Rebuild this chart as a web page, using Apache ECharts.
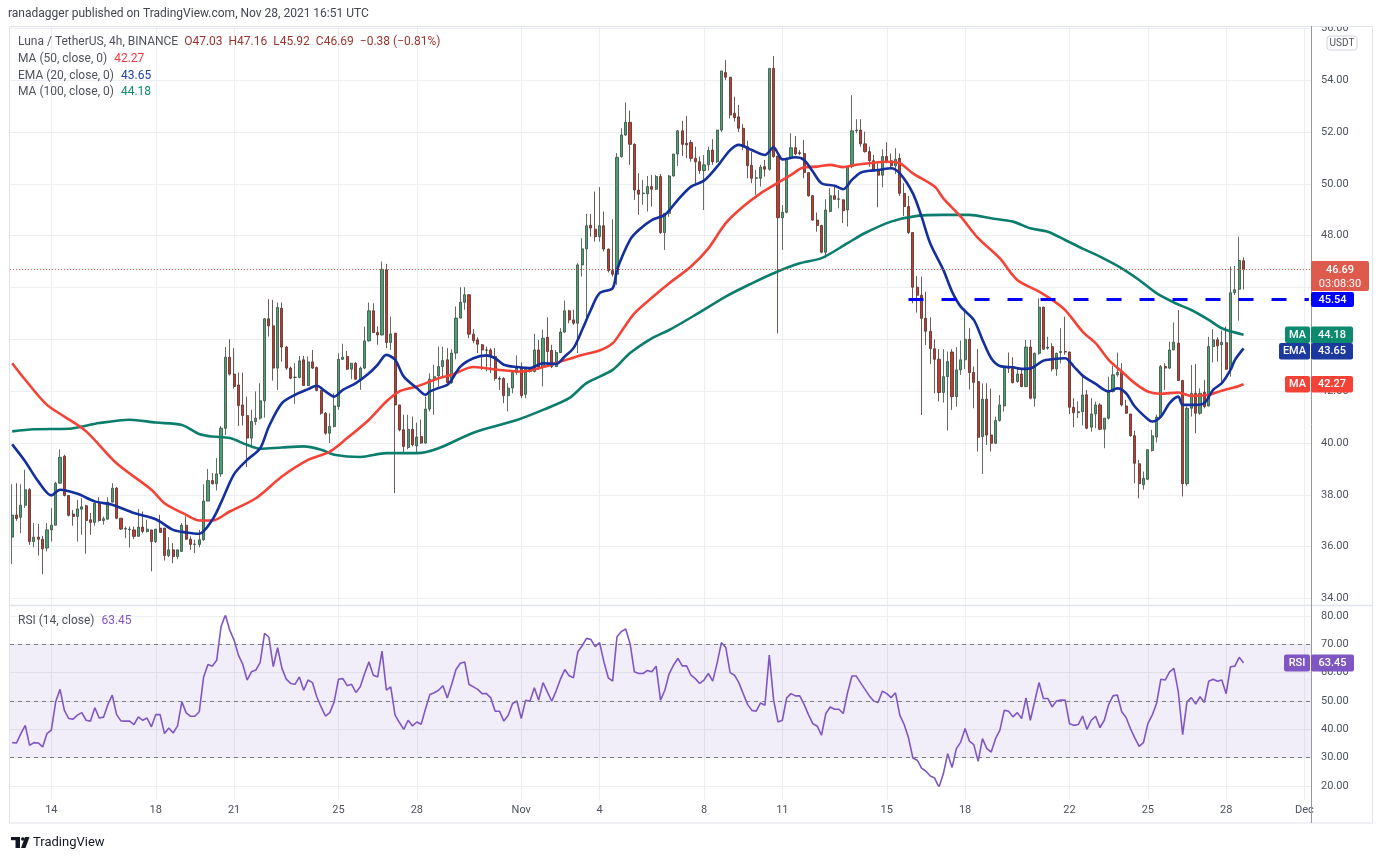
<!DOCTYPE html>
<html>
<head>
<meta charset="utf-8">
<script src="https://cdn.jsdelivr.net/npm/echarts/dist/echarts.min.js"></script>
<style>html,body{margin:0;padding:0;background:#fff}#c{width:1383px;height:860px}</style>
</head>
<body>
<div id="c"></div>
<script>
// ---------------- DATA ----------------
const tickDates  = ['2021-10-14','2021-10-18','2021-10-21','2021-10-25','2021-10-28','2021-11-01','2021-11-04','2021-11-08','2021-11-11','2021-11-15','2021-11-18','2021-11-22','2021-11-25','2021-11-28','2021-12-01'];
const tickLabels = ['14','18','21','25','28','Nov','4','8','11','15','18','22','25','28','Dec'];
const priceTicks = { min: 34, max: 56, step: 2 };
const rsiTicks = { min: 20, max: 80, step: 10 };

const openP = [36.37,37.22,37.14,37.6,38.2,36.2,36.37,36.29,35.95,36.65,36.83,38.45,39.49,37.98,37.26,37.17,37.45,37.58,37.04,36.94,37.68,37.01,37.06,37.72,38.26,37.1,36.68,36.66,36.65,36.4,36.76,36.59,36.65,36.2,36.72,36.72,35.66,35.88,35.62,35.82,36.83,36.29,36.09,36.09,36.27,37.76,38.55,38.43,38.81,40.57,
43.31,42.66,42.24,41.47,41.06,40.19,40.83,40.96,41.63,44.79,44.52,42.89,45.2,43.7,42.89,42.53,42.53,43.21,42.22,43.13,42.91,42.03,41.15,40.38,40.64,41.41,43.23,43.34,42.85,43.08,42.46,42.89,43.94,45.1,44.26,44.17,46.68,43.88,44.24,41.47,40.51,39.83,40.53,39.89,40.25,40.0,41.31,42.46,42.59,42.95,
43.21,42.33,43.47,44.82,45.43,45.72,44.20,43.98,43.79,43.59,43.59,43.34,42.49,42.49,41.83,42.12,42.72,42.89,41.88,42.85,42.76,43.59,42.93,44.08,43.57,42.95,43.49,44.28,45.10,44.75,44.62,46.87,47.49,48.40,48.25,47.96,48.38,47.48,46.65,46.51,51.05,51.88,52.37,51.52,49.76,49.62,49.61,49.89,49.79,50.28,
48.12,48.86,50.30,51.15,52.04,51.56,51.59,50.98,50.85,50.51,50.73,51.30,50.85,52.07,54.29,54.11,52.72,52.58,52.14,51.43,50.71,50.21,50.21,50.66,50.56,54.45,51.07,48.69,48.90,50.98,51.39,51.20,51.17,50.43,49.54,48.60,48.39,47.36,48.93,49.54,49.40,49.38,48.99,50.66,52.04,52.07,51.54,51.24,50.89,50.51,
50.33,51.05,50.89,50.69,50.98,49.63,49.12,48.12,46.01,45.70,44.81,44.31,43.64,43.23,41.95,42.56,43.51,41.79,42.82,43.21,44.00,42.72,42.37,40.25,41.69,40.31,39.99,40.87,41.43,42.95,42.88,42.37,42.66,42.18,43.70,41.73,43.46,45.24,43.66,43.72,42.86,43.49,43.53,43.51,41.38,41.17,41.21,41.86,40.61,41.12,
41.47,40.53,40.96,41.99,42.63,42.72,41.43,41.12,40.28,39.20,38.39,38.60,39.71,40.23,41.00,42.95,42.89,43.59,43.85,42.41,38.43,41.34,41.92,41.15,41.96,41.43,43.72,43.98,43.79,43.87,42.85,45.80,45.93,47.03];
const highP = [38.41,38.45,38.41,38.97,38.26,36.91,36.88,36.42,36.91,37.49,38.5,39.76,39.55,37.98,37.42,37.81,37.87,37.62,37.3,37.75,37.91,37.17,37.91,38.45,38.3,37.1,36.78,36.78,36.78,37.45,37.36,37.04,36.65,36.68,37.23,36.72,36.37,36.14,35.88,36.91,37.17,36.4,36.27,36.65,38.41,39.0,38.84,39.42,40.66,43.7,
44.0,43.66,42.72,42.72,41.79,41.28,41.99,42.31,44.82,45.55,45.52,45.42,45.42,43.75,42.95,43.08,43.36,43.36,43.34,43.59,42.95,42.05,41.2,41.15,41.92,43.46,43.83,43.55,43.08,43.12,42.95,44.49,45.42,45.39,44.5,47.0,46.91,44.88,44.24,41.47,41.09,41.09,41.02,40.79,40.9,41.79,42.69,43.02,43.72,43.72,
43.66,43.62,45.27,46.01,46.01,45.74,44.39,44.08,43.82,43.72,43.66,43.66,42.57,42.54,42.31,42.80,43.38,43.11,42.95,42.89,44.21,43.98,44.37,44.85,43.79,43.59,44.43,45.50,45.14,45.14,46.94,47.90,48.84,48.84,49.70,49.87,48.93,47.50,48.63,51.18,52.14,53.14,52.82,51.56,50.41,50.15,50.30,50.34,50.34,50.38,
48.86,50.34,51.15,52.07,52.43,52.61,51.69,51.43,51.05,51.11,51.43,51.72,52.07,54.35,54.77,54.11,53.36,53.04,52.30,51.66,51.24,50.53,50.73,50.92,54.45,54.93,51.07,49.18,50.98,51.95,51.84,51.30,51.69,50.43,49.57,48.89,48.42,49.40,49.83,49.95,49.76,49.40,50.66,53.42,52.49,52.49,52.01,51.43,51.11,50.79,
51.33,51.60,51.17,51.37,51.17,50.02,49.53,48.12,46.44,46.42,45.84,44.85,44.00,43.62,43.62,43.53,43.62,43.70,43.95,45.20,44.43,42.95,43.62,42.30,42.30,42.10,41.02,41.85,42.95,43.49,43.31,42.88,42.88,43.98,43.98,43.49,45.58,45.26,44.10,43.85,43.49,44.43,44.87,43.53,41.73,41.60,42.62,42.05,41.73,41.60,
41.54,40.96,42.56,42.98,43.49,43.08,41.67,41.12,40.47,39.35,38.90,39.76,40.51,41.09,43.01,43.08,43.91,44.65,45.13,42.44,41.41,43.01,43.05,42.11,42.44,44.10,44.39,44.08,44.34,44.49,46.81,46.83,47.96,47.16];
const lowP = [35.33,37.0,36.52,37.5,36.07,35.98,35.66,34.94,35.82,36.2,36.83,38.45,37.94,37.17,36.81,36.2,36.46,35.73,36.46,36.81,36.97,36.85,37.06,37.72,37.06,36.65,36.33,35.97,36.29,36.4,36.52,36.55,35.05,36.15,36.55,35.47,35.6,35.37,35.52,35.82,36.27,35.88,35.75,35.98,36.23,37.76,38.4,38.17,38.7,40.31,
42.6,42.1,40.66,40.68,39.07,39.87,40.7,40.9,40.98,44.11,42.41,42.05,43.14,42.82,42.46,41.51,42.5,42.2,42.2,42.85,42.0,41.09,40.32,40.0,40.6,41.28,43.2,42.82,42.46,42.44,42.05,42.85,43.92,44.24,43.79,44.14,43.66,43.59,38.07,40.45,39.58,39.76,39.87,39.58,39.97,39.98,41.22,41.09,42.18,42.57,
42.31,42.28,43.23,44.80,45.14,44.04,43.85,43.47,42.82,42.76,42.69,42.41,42.05,41.54,41.22,41.92,42.63,41.73,41.73,42.72,42.72,42.82,42.18,42.93,42.89,42.93,43.47,44.26,44.62,44.56,43.47,46.42,44.75,47.96,47.77,47.77,47.39,46.58,46.42,46.10,51.0,51.85,50.73,49.38,48.80,49.19,48.93,49.12,49.76,48.06,
47.45,48.73,50.28,50.69,51.07,50.98,50.85,50.02,50.38,48.99,50.51,50.73,50.80,52.0,54.0,52.52,52.4,52.0,51.30,50.21,50.02,49.57,49.89,50.28,50.50,51.0,44.23,47.45,48.86,50.98,51.10,51.10,50.21,49.50,48.58,48.15,47.32,47.13,48.90,49.38,49.05,48.48,48.35,50.60,51.95,51.43,51.20,50.66,50.47,49.09,
49.86,50.79,50.56,50.38,49.53,48.76,48.06,45.39,45.03,41.08,43.78,43.05,41.92,41.60,41.56,40.48,41.28,41.40,42.63,42.85,42.07,41.34,39.67,38.81,39.93,39.67,39.96,40.83,41.21,42.70,42.30,42.33,42.15,42.15,41.69,41.40,43.40,43.60,43.60,42.76,42.59,43.07,43.40,41.12,40.61,40.96,40.68,40.53,40.44,40.57,
40.50,39.80,40.90,41.95,42.56,41.41,41.12,40.25,38.45,37.87,38.20,38.58,39.67,40.02,40.96,42.05,42.85,43.59,42.41,37.94,38.35,41.02,40.38,41.09,41.34,41.41,43.11,43.14,42.37,42.82,42.56,45.71,44.72,45.92];
const closeP = [37.22,37.09,37.6,38.2,36.2,36.37,36.29,35.92,36.65,36.83,38.45,39.45,37.98,37.21,37.17,37.46,37.54,37.01,36.94,37.68,37.01,37.08,37.72,38.26,37.1,36.68,36.7,36.68,36.4,36.76,36.59,36.68,36.2,36.68,36.55,35.66,35.88,35.62,35.88,36.83,36.29,36.09,36.1,36.27,37.76,38.55,38.43,38.81,40.57,43.31,
42.66,42.18,41.45,41.06,40.19,40.83,40.96,41.63,44.79,44.52,42.89,45.23,43.7,42.89,42.5,42.54,43.17,42.22,43.13,42.89,42.03,41.15,40.38,40.64,41.43,43.23,43.31,42.85,43.08,42.46,42.89,43.94,45.1,44.26,44.17,46.7,43.88,44.21,41.47,40.51,39.87,40.53,39.93,40.23,40.0,41.31,42.46,42.56,42.95,43.18,
42.33,43.47,44.82,45.43,45.72,44.20,43.95,43.81,43.59,43.58,43.34,42.49,42.46,41.83,42.12,42.72,42.89,41.83,42.85,42.76,43.59,42.93,44.04,43.53,42.95,43.49,44.28,45.10,44.75,44.62,46.87,47.49,48.38,48.29,47.96,48.38,47.48,46.65,46.51,51.02,51.88,52.37,51.52,49.76,49.60,49.64,49.89,49.79,50.28,48.12,
48.86,50.30,51.15,52.04,51.52,51.50,50.98,50.85,50.51,50.73,51.28,50.85,52.07,54.35,54.11,52.65,52.55,52.14,51.43,50.70,50.21,50.23,50.64,50.56,54.45,51.05,48.69,48.90,50.98,51.39,51.15,51.17,50.43,49.54,48.60,48.39,47.36,48.99,49.54,49.40,49.42,48.96,50.66,52.04,52.07,51.54,51.24,50.89,50.51,50.33,
51.05,50.85,50.69,50.94,49.63,49.12,48.12,46.01,45.70,44.81,44.31,43.64,43.23,41.95,42.56,43.14,41.79,42.82,43.21,44.00,42.72,42.34,40.22,41.69,40.31,39.99,40.87,41.47,42.92,42.88,42.33,42.66,42.18,43.70,41.73,43.46,45.24,43.62,43.70,42.86,43.46,43.53,43.51,41.38,41.17,41.21,41.85,40.57,41.12,41.47,
40.53,40.96,41.99,42.63,42.72,41.47,41.15,40.28,39.22,38.43,38.64,39.74,40.28,41.00,42.95,42.89,43.59,43.89,42.41,38.43,41.34,41.92,41.15,41.92,41.41,43.72,43.98,43.75,43.89,42.85,45.80,45.91,47.04,46.69];

// moving averages: [candle index, value]
const ema20Points = [[0,39.95],[3,39.29],[6,38.52],[9,37.98],[11,38.2],[15,38.04],[19,37.75],[23,37.62],[28,37.3],[33,37.06],[37,36.65],[40,36.55],[43,36.5],[46,37.04],[48,37.7],[51,38.8],[54,39.35],[57,39.8],[59,40.64],[62,41.54],[65,41.86],[68,42.08],[70,42.21],[72,41.99],[74,41.79],[76,42.05],[79,42.31],[82,42.69],[84,43.02],[86,43.4],[88,43.21],[90,42.56],[93,42.12],[95,41.86],[96,41.99],[98,42.12],[100,42.24],[101,42.44],[103,42.95],[106,43.27],[109,43.38],[111,43.27],[113,43.02],[116,42.93],[119,42.89],[122,43.08],[125,43.05],[127,43.34],[129,43.66],[131,44.37],[133,45.14],[135,45.78],[138,45.97],[139,46.68],[142,47.84],[144,48.22],[147,48.6],[150,48.8],[153,49.38],[156,49.89],[159,50.12],[162,50.66],[165,51.3],[167,51.5],[170,51.3],[173,51.11],[175,51.41],[176,51.17],[177,50.94],[180,51.02],[182,50.92],[184,50.47],[186,50.02],[189,49.92],[191,49.79],[193,50.15],[195,50.43],[197,50.5],[199,50.53],[202,50.6],[204,50.4],[207,49.63],[209,48.73],[211,47.7],[214,46.68],[216,45.84],[218,45.26],[221,44.75],[223,43.98],[225,43.27],[227,42.97],[230,42.92],[232,42.86],[234,42.88],[237,43.18],[239,43.23],[242,43.27],[244,42.95],[246,42.6],[249,42.28],[252,41.99],[254,42.11],[256,41.92],[258,41.41],[261,40.92],[262,40.83],[264,41.02],[266,41.54],[268,41.79],[269,41.47],[272,41.47],[274,41.54],[276,42.05],[278,42.31],[280,42.82],[281,43.2],[283,43.65]];
const ma50Points = [[0,43.08],[3,42.44],[8,41.47],[12,41.02],[17,40.45],[24,39.22],[32,38.2],[35,37.68],[40,37.23],[43,37.01],[46,37.01],[50,37.36],[56,37.87],[62,38.71],[68,39.35],[73,39.67],[77,40.19],[82,40.9],[86,41.6],[89,41.99],[93,42.18],[98,42.5],[101,42.63],[106,42.93],[112,42.82],[117,42.76],[122,42.93],[126,43.14],[131,43.4],[135,43.57],[138,43.85],[140,44.3],[143,45.0],[147,45.6],[151,46.16],[156,46.81],[160,47.51],[164,48.48],[168,49.12],[172,49.63],[176,50.04],[179,50.34],[182,50.64],[185,50.66],[188,50.73],[191,50.64],[194,50.73],[197,50.79],[201,50.85],[204,50.79],[207,50.4],[212,49.89],[214,49.44],[218,48.73],[222,47.9],[227,47.12],[231,46.29],[236,45.84],[239,45.52],[242,45.13],[246,44.3],[249,43.85],[252,43.21],[255,42.76],[258,42.31],[261,41.99],[264,41.9],[268,41.95],[271,41.82],[275,41.86],[278,42.02],[281,42.15],[283,42.27]];
const ma100Points = [[0,40.45],[5,40.53],[13,40.55],[20,40.77],[27,40.9],[33,40.79],[39,40.7],[43,40.35],[46,40.25],[50,40.19],[54,39.93],[57,39.78],[62,39.83],[67,39.87],[71,39.74],[74,39.55],[80,39.46],[86,39.61],[93,39.61],[98,39.8],[106,40.4],[116,40.89],[122,41.28],[128,41.73],[132,42.31],[138,42.82],[142,43.47],[147,44.04],[151,44.36],[157,44.94],[164,45.65],[170,46.16],[175,46.55],[181,46.93],[186,47.13],[192,47.71],[196,48.1],[202,48.54],[208,48.76],[214,48.8],[220,48.8],[225,48.67],[230,48.54],[234,48.28],[238,48.15],[242,47.83],[246,47.5],[250,47.19],[255,46.74],[259,46.29],[263,45.78],[267,45.42],[271,45.13],[275,44.75],[278,44.43],[283,44.18]];

const rsi14 = [35.3,35.2,38.5,41.4,34.4,35.3,35.2,33.8,38.5,39.7,49.7,54.1,46.7,43.8,43.6,45.0,45.9,43.2,42.9,47.6,44.0,44.3,48.8,52.1,45.2,43.0,42.9,42.9,41.7,44.4,43.2,44.0,40.9,45.2,45.2,38.5,40.5,38.7,41.2,49.7,45.8,44.6,44.6,46.2,58.5,62.9,62.3,64.4,76.2,80.4,
75.0,71.5,66.2,62.9,57.4,60.3,60.9,63.6,73.9,72.5,62.1,68.8,61.5,57.7,56.2,55.9,58.5,53.8,57.4,56.5,51.5,47.9,44.7,45.9,49.7,57.7,57.9,55.4,55.9,53.0,55.0,59.7,63.8,59.1,58.5,67.6,53.8,55.0,45.0,42.4,40.0,43.2,41.2,42.6,41.8,47.3,52.3,52.9,53.8,55.4,
51.1,55.8,61.1,63.3,63.8,55.8,55.0,54.1,52.6,52.6,51.1,46.4,46.4,42.9,45.0,49.1,50.0,43.8,50.3,49.9,54.7,50.3,56.5,53.2,49.9,53.5,57.7,61.1,58.9,58.2,67.4,69.5,72.1,71.7,69.2,70.6,63.8,58.2,57.0,72.7,74.5,75.4,70.3,60.3,59.7,59.7,60.8,60.3,62.3,50.3,
53.8,59.7,62.7,65.0,62.4,62.4,59.1,57.9,56.2,57.4,59.7,57.0,63.3,70.6,68.9,60.0,59.1,56.5,52.6,48.8,46.7,46.4,49.3,48.5,66.2,50.3,42.6,43.2,51.1,52.6,51.8,51.8,48.8,45.2,42.0,41.2,37.9,45.6,47.9,47.1,47.1,45.6,53.0,58.8,58.8,56.4,54.1,51.8,50.0,49.5,
53.5,52.6,51.2,52.9,45.0,41.7,37.0,29.9,29.1,26.3,25.2,23.5,22.8,19.6,24.3,31.4,26.5,33.2,35.5,40.3,35.8,34.6,28.7,36.7,33.2,32.0,36.7,39.7,46.7,46.4,44.4,45.9,43.8,51.1,43.2,49.9,56.5,50.9,50.9,47.9,50.0,50.3,50.3,42.0,41.4,41.7,44.7,40.0,43.2,44.6,
40.6,43.2,48.8,51.8,52.1,46.2,44.2,40.3,37.0,34.0,35.3,42.0,45.0,49.1,57.7,57.4,60.3,61.5,53.2,38.1,49.7,51.2,48.9,51.5,49.5,57.0,57.7,57.0,57.4,52.6,62.1,62.3,65.4,63.45];

const supportLevel = 45.54;
const supportFrom = 206;          // candle index where the drawn support line begins
const lastPrice = 46.69;
const lastMA50 = 42.27, lastEMA20 = 43.65, lastMA100 = 44.18, lastRSI = 63.45;
const ohlcText = { o: '47.03', h: '47.16', l: '45.92', c: '46.69', chg: '\u22120.38 (\u22120.81%)' };

// ---------------- CATEGORIES (4h slots) ----------------
const nSlots = 299;
const startUTC = Date.UTC(2021, 9, 12, 12, 0);
const cats = [];
for (let i = 0; i < nSlots; i++) {
  cats.push(new Date(startUTC + i * 4 * 3600e3).toISOString().slice(0, 16).replace('T', ' '));
}
const tickMap = {};
tickDates.forEach((d, i) => { tickMap[d + ' 00:00'] = tickLabels[i]; });

function toSeries(points) {
  const arr = new Array(openP.length).fill(null);
  points.forEach(p => { arr[p[0]] = p[1]; });
  return arr;
}
const candleData = openP.map((o, i) => [o, closeP[i], lowP[i], highP[i]]);
const supportData = new Array(nSlots).fill(null);
supportData[supportFrom] = supportLevel;
supportData[nSlots - 1] = supportLevel;

// ---------------- CHART ----------------
const FONT = 'Roboto, "Noto Sans", sans-serif';
const L = 10, W = 1301, slot = W / nSlots;
const chart = echarts.init(document.getElementById('c'), null, { renderer: 'canvas' });
const gridColor = '#eceef1';
const axisTxt = '#4c525e';

chart.setOption({
  animation: false,
  backgroundColor: '#ffffff',
  textStyle: { fontFamily: FONT },
  grid: [
    { left: L + slot / 2, width: slot * (nSlots - 1), top: 26, height: 774 },
    { left: L, width: W, top: 28.2, height: 570.4 },
    { left: L, width: W, top: 616, height: 170 }
  ],
  xAxis: [
    { type: 'category', gridIndex: 0, data: cats, boundaryGap: false,
      axisLine: { show: false }, axisTick: { show: false },
      axisLabel: { interval: (i, v) => tickMap[v] !== undefined, formatter: v => tickMap[v] || '',
                   color: axisTxt, fontSize: 11, margin: 5, fontFamily: FONT },
      splitLine: { show: true, interval: (i, v) => tickMap[v] !== undefined, lineStyle: { color: gridColor, width: 1 } } },
    { type: 'category', gridIndex: 1, data: cats, boundaryGap: true, show: false },
    { type: 'category', gridIndex: 2, data: cats, boundaryGap: true, show: false }
  ],
  yAxis: [
    { type: 'value', gridIndex: 0, show: false, min: 0, max: 1 },
    { type: 'value', gridIndex: 1, position: 'right', min: priceTicks.min, max: priceTicks.max, interval: priceTicks.step,
      axisLine: { show: false }, axisTick: { show: false },
      axisLabel: { formatter: v => v.toFixed(2), color: axisTxt, fontSize: 11, margin: 10, fontFamily: FONT },
      splitLine: { lineStyle: { color: gridColor, width: 1 } } },
    { type: 'value', gridIndex: 2, position: 'right', min: rsiTicks.min, max: rsiTicks.max, interval: rsiTicks.step,
      axisLine: { show: false }, axisTick: { show: false },
      axisLabel: { formatter: v => v.toFixed(2), color: axisTxt, fontSize: 11, margin: 10, fontFamily: FONT },
      splitLine: { lineStyle: { color: gridColor, width: 1 } } }
  ],
  series: [
    { type: 'candlestick', xAxisIndex: 1, yAxisIndex: 1, data: candleData, barWidth: 2.6, z: 2,
      itemStyle: { color: '#46a173', color0: '#c8392d', borderColor: '#3a4a40', borderColor0: '#4e2f2b', borderWidth: 0.8 },
      markLine: { silent: true, symbol: 'none', label: { show: false },
        lineStyle: { color: '#e0574a', type: [1, 2], width: 1 }, data: [{ yAxis: lastPrice }] } },
    { type: 'line', xAxisIndex: 1, yAxisIndex: 1, data: toSeries(ma100Points), connectNulls: true, showSymbol: false,
      smooth: 0.3, lineStyle: { color: '#0b7d6c', width: 2.6 }, z: 3 },
    { type: 'line', xAxisIndex: 1, yAxisIndex: 1, data: toSeries(ma50Points), connectNulls: true, showSymbol: false,
      smooth: 0.3, lineStyle: { color: '#f44336', width: 2.6 }, z: 3 },
    { type: 'line', xAxisIndex: 1, yAxisIndex: 1, data: toSeries(ema20Points), connectNulls: true, showSymbol: false,
      smooth: 0.3, lineStyle: { color: '#13309c', width: 2.6 }, z: 4 },
    { type: 'line', xAxisIndex: 1, yAxisIndex: 1, data: supportData, connectNulls: true, showSymbol: false,
      lineStyle: { color: '#0000ff', width: 3, type: [15, 18] }, z: 5 },
    { type: 'line', xAxisIndex: 2, yAxisIndex: 2, data: rsi14, showSymbol: false, z: 3,
      lineStyle: { color: '#7e57c2', width: 1.6 },
      markArea: { silent: true, itemStyle: { color: 'rgba(126,87,194,0.1)' }, data: [[{ yAxis: 30 }, { yAxis: 70 }]] },
      markLine: { silent: true, symbol: 'none', label: { show: false },
        lineStyle: { color: '#787b86', type: [4, 4], width: 1 }, data: [{ yAxis: 70 }, { yAxis: 50 }, { yAxis: 30 }] } }
  ]
});

// ---------------- OVERLAY TEXT / TAGS ----------------
const ctx = document.createElement('canvas').getContext('2d');
function tw(t, font) { ctx.font = font; return ctx.measureText(t).width; }
const g = [];
function txt(x, y, t, fill, size, align, weight) {
  const font = (weight ? weight + ' ' : '') + size + 'px ' + FONT;
  g.push({ type: 'text', z: 100, silent: true,
    style: { x: x, y: y, text: t, fill: fill, font: font, align: align || 'left', verticalAlign: 'middle' } });
  return tw(t, font);
}
function row(x, y, parts, size) {
  parts.forEach(p => { const w = txt(x, y, p[0], p[1], size); x += w + (p[2] || 0); });
}
function rect(x, y, w, h, fill, r, stroke) {
  g.push({ type: 'rect', z: 99, silent: true, shape: { x: x, y: y, width: w, height: h, r: r || 0 },
    style: { fill: fill, stroke: stroke || null, lineWidth: stroke ? 1 : 0 } });
}
const gray = '#50535e';

// frame, separators, axis border
g.push({ type: 'rect', z: 1, silent: true, shape: { x: 9.5, y: 26.5, width: 1363, height: 796.5 }, style: { fill: null, stroke: '#e0e3eb', lineWidth: 1 } });
rect(1312, 0, 70, 26, '#ffffff');
g.push({ type: 'line', z: 98, silent: true, shape: { x1: 10, y1: 605.5, x2: 1373, y2: 605.5 }, style: { stroke: '#e0e3eb', lineWidth: 1.5 } });
g.push({ type: 'line', z: 98, silent: true, shape: { x1: 1311.5, y1: 26, x2: 1311.5, y2: 823 }, style: { stroke: '#9598a1', lineWidth: 1 } });

// header & legends
txt(8, 14, 'ranadagger published on TradingView.com, Nov 28, 2021 16:51 UTC', '#434651', 12);
const dr = '#9c3530';
row(18, 42, [['Luna / TetherUS, 4h, BINANCE', gray, 6], ['O' + ohlcText.o, dr, 6], ['H' + ohlcText.h, dr, 6],
             ['L' + ohlcText.l, dr, 6], ['C' + ohlcText.c, dr, 6], [ohlcText.chg, dr, 0]], 12);
row(18, 59, [['MA (50, close, 0)', gray, 7], [lastMA50.toFixed(2), '#f23645', 0]], 12);
row(18, 75.5, [['EMA (20, close, 0)', gray, 7], [lastEMA20.toFixed(2), '#1e3fa8', 0]], 12);
row(18, 91.5, [['MA (100, close, 0)', gray, 7], [lastMA100.toFixed(2), '#0b8a6f', 0]], 12);
row(18, 621, [['RSI (14, close)', gray, 7], [lastRSI.toFixed(2), '#7e57c2', 0]], 12);

// USDT box
rect(1327, 36, 30, 14, '#ffffff', 3, '#d1d4dc');
txt(1342, 43.5, 'USDT', gray, 10, 'center');

// price tags
const yP = v => chart.convertToPixel({ yAxisIndex: 1 }, v);
const yR = v => chart.convertToPixel({ yAxisIndex: 2 }, v);
function tag(yc, value, color, tagText, tagW, valW, h) {
  h = h || 16.5; valW = valW || 42;
  rect(1311, yc - h / 2, valW, h, color, 2);
  txt(1311 + valW / 2, yc + 0.5, value, '#ffffff', 11, 'center', '500');
  if (tagText) {
    rect(1310 - tagW, yc - h / 2, tagW, h, color, 2);
    txt(1310 - tagW / 2, yc + 0.5, tagText, '#ffffff', 11, 'center', '500');
  }
}
const yLast = yP(lastPrice);
rect(1311, yLast - 8.5, 58, 30, '#dd5a4d', 2);
txt(1340, yLast + 0.5, lastPrice.toFixed(2), '#ffffff', 11, 'center', '500');
txt(1340, yLast + 14.5, '03:08:30', '#ffffff', 11, 'center');
tag(yP(supportLevel), supportLevel.toFixed(2), '#0000ff', null, 0, 43, 15);
const y100 = yP(lastMA100);
tag(y100, lastMA100.toFixed(2), '#0b8a6f', 'MA', 25);
const yEma = Math.max(yP(lastEMA20), y100 + 16.5);
tag(yEma, lastEMA20.toFixed(2), '#1c3a9e', 'EMA', 31);
tag(yP(lastMA50), lastMA50.toFixed(2), '#f44336', 'MA', 25);
tag(yR(lastRSI), lastRSI.toFixed(2), '#7e57c2', 'RSI', 26, 43, 17);

// TradingView logo
rect(11, 837, 9, 3.2, '#131722');
rect(15.5, 837, 4.5, 11, '#131722');
g.push({ type: 'circle', z: 100, silent: true, shape: { cx: 22.8, cy: 839, r: 1.8 }, style: { fill: '#131722' } });
g.push({ type: 'polygon', z: 100, silent: true, shape: { points: [[25, 837], [29.5, 837], [25.5, 848], [21, 848]] }, style: { fill: '#131722' } });
txt(33, 843, 'TradingView', '#131722', 13);

chart.setOption({ graphic: { elements: g } });
</script>
</body>
</html>
